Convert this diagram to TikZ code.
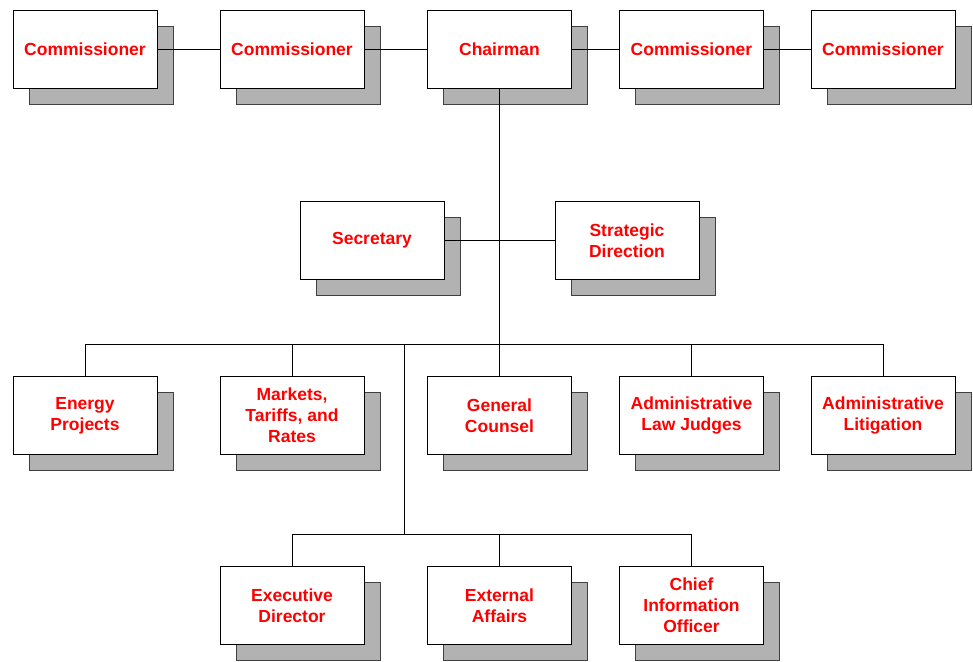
\documentclass[tikz,border=0pt]{standalone}
\usepackage{fontspec}
\setmainfont{Liberation Sans}
\usetikzlibrary{shadows,positioning}

\begin{document}
\begin{tikzpicture}[x=1pt,y=-1pt]
  \tikzset{office/.style = {shape=rectangle,draw,fill=white,line width=0.9pt,
      minimum width=144pt,minimum height=78pt,inner sep=2pt,align=center,
      text=red,font=\fontsize{17.5}{21}\selectfont\bfseries,
      copy shadow={fill=gray!60,draw=black!75,line width=0.9pt,shadow xshift=16pt,shadow yshift=-16pt}}}
  \tikzset{link/.style = {draw,line width=0.8pt}}

  \useasboundingbox (0,0) rectangle (973,661);

	% board
	\node[office] (comA) at (85,49) {Commissioner};
	\node[office] (comB) at (292,49) {Commissioner};
	\node[office] (chair) at (499.5,49) {Chairman};
	\node[office] (comC) at (691.5,49) {Commissioner};
	\node[office] (comD) at (883,49) {Commissioner};

	% staff
	\node[office] (sec) at (372,240.5) {Secretary};
	\node[office] (strat) at (627,240.5) {Strategic\\Direction};

	% offices
	\node[office] (energy) at (85,415.5) {Energy\\Projects};
	\node[office] (markets) at (292,415.5) {Markets,\\Tariffs, and\\Rates};
	\node[office] (counsel) at (499.5,415.5) {General\\Counsel};
	\node[office] (alj) at (691.5,415.5) {Administrative\\Law Judges};
	\node[office] (litig) at (883,415.5) {Administrative\\Litigation};

	\node[office] (exec) at (292,605.5) {Executive\\Director};
	\node[office] (ext) at (499.5,605.5) {External\\Affairs};
	\node[office] (cio) at (691.5,605.5) {Chief\\Information\\Officer};

	\coordinate (hub) at (499.5,344);
	\coordinate (split) at (404,344);
	\coordinate (low) at (404,534);

    \foreach \from/\to in {comA/comB, comB/chair, chair/comC, comC/comD, sec/strat, chair/hub, split/low}
    \path[link] (\from) -- (\to);

    \path[link] (energy.north |- hub) -- (litig.north |- hub);
    \path[link] (exec.north |- low) -- (cio.north |- low);

    \foreach \to in {energy, markets, counsel, alj, litig}
    \path[link] (\to.north |- hub) -- (\to.north);
    \foreach \to in {exec, ext, cio}
    \path[link] (\to.north |- low) -- (\to.north);

\end{tikzpicture}
\end{document}
